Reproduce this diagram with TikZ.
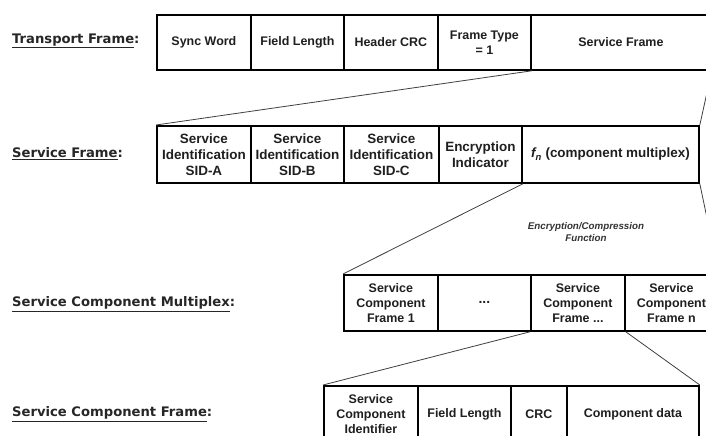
\documentclass[tikz,border=0pt]{standalone}
\usepackage{fontspec}
\setmainfont{Liberation Sans}
\newfontfamily\labfont{DejaVu Sans}
\begin{document}
\begin{tikzpicture}[x=1bp,y=-1bp,
  cell/.style={draw, line width=1.8bp, rectangle, anchor=north west, inner sep=0pt, align=center,
    font=\bfseries\fontsize{12.5}{15}\selectfont, text=black!88},
  sidcell/.style={cell, font=\bfseries\fontsize{13.5}{16}\selectfont},
  link/.style={line width=0.8bp, draw=black!75},
  lab/.style={anchor=west, font=\labfont\bfseries\fontsize{13.2}{15}\selectfont, text=black!85, inner sep=0pt}]
\clip (0,0) rectangle (706,436);
\fill[white] (0,0) rectangle (706,436);
% labels
\node[lab] (l1) at (12,41) {\underline{Transport Frame}:};
\node[lab] (l2) at (12,154) {\underline{Service Frame}:};
\node[lab] (l3) at (12,304) {\underline{Service Component Multiplex}:};
\node[lab] (l4) at (12,414) {\underline{Service Component Frame}:};
% transport frame
\node[cell, minimum width=94bp, minimum height=55bp] (t1) at (156,14) {Sync Word};
\node[cell, minimum width=93bp, minimum height=55bp] (t2) at (250,14) {Field Length};
\node[cell, minimum width=94bp, minimum height=55bp] (t3) at (343,14) {Header CRC};
\node[cell, minimum width=93bp, minimum height=55bp] (t4) at (437,14) {Frame Type\\= 1};
\node[cell, minimum width=180bp, minimum height=55bp] (t5) at (530,14) {Service Frame};
% service frame
\node[sidcell, minimum width=94bp, minimum height=57bp] (s1) at (156,125) {Service\\Identification\\SID-A};
\node[sidcell, minimum width=93bp, minimum height=57bp] (s2) at (250,125) {Service\\Identification\\SID-B};
\node[sidcell, minimum width=95bp, minimum height=57bp] (s3) at (343,125) {Service\\Identification\\SID-C};
\node[sidcell, minimum width=83bp, minimum height=57bp] (s4) at (438,125) {Encryption\\Indicator};
\node[sidcell, minimum width=177bp, minimum height=57bp] (s5) at (521,125) {{\itshape f}\textsubscript{\itshape n} (component multiplex)};
% service component multiplex
\node[cell, minimum width=94bp, minimum height=56bp] (m1) at (343,274) {Service\\Component\\Frame 1};
\node[cell, minimum width=93bp, minimum height=56bp, font=\bfseries\fontsize{14}{15}\selectfont] (m2) at (437,274) {...};
\node[cell, minimum width=94bp, minimum height=56bp] (m3) at (530,274) {Service\\Component\\Frame ...};
\node[cell, minimum width=93bp, minimum height=56bp] (m4) at (624,274) {Service\\Component\\Frame n};
% service component frame
\node[cell, minimum width=94bp, minimum height=56bp] (c1) at (323,385) {Service\\Component\\Identifier};
\node[cell, minimum width=93bp, minimum height=56bp] (c2) at (417,385) {Field Length};
\node[cell, minimum width=56bp, minimum height=56bp] (c3) at (510,385) {CRC};
\node[cell, minimum width=132bp, minimum height=56bp] (c4) at (566,385) {Component data};
% function label
\node[font=\bfseries\itshape\fontsize{9.8}{12}\selectfont, align=center, text=black!80] (enc) at (586,232) {Encryption/Compression\\Function};
% connectors
\draw[link] (t4.south east) -- (s1.north west);
\draw[link] (t5.south east) -- (s5.north east);
\draw[link] (s4.south east) -- (m1.north west);
\draw[link] (s5.south east) -- (m4.north east);
\draw[link] (m3.south west) -- (c1.north west);
\draw[link] (m3.south east) -- (c4.north east);
\end{tikzpicture}
\end{document}
